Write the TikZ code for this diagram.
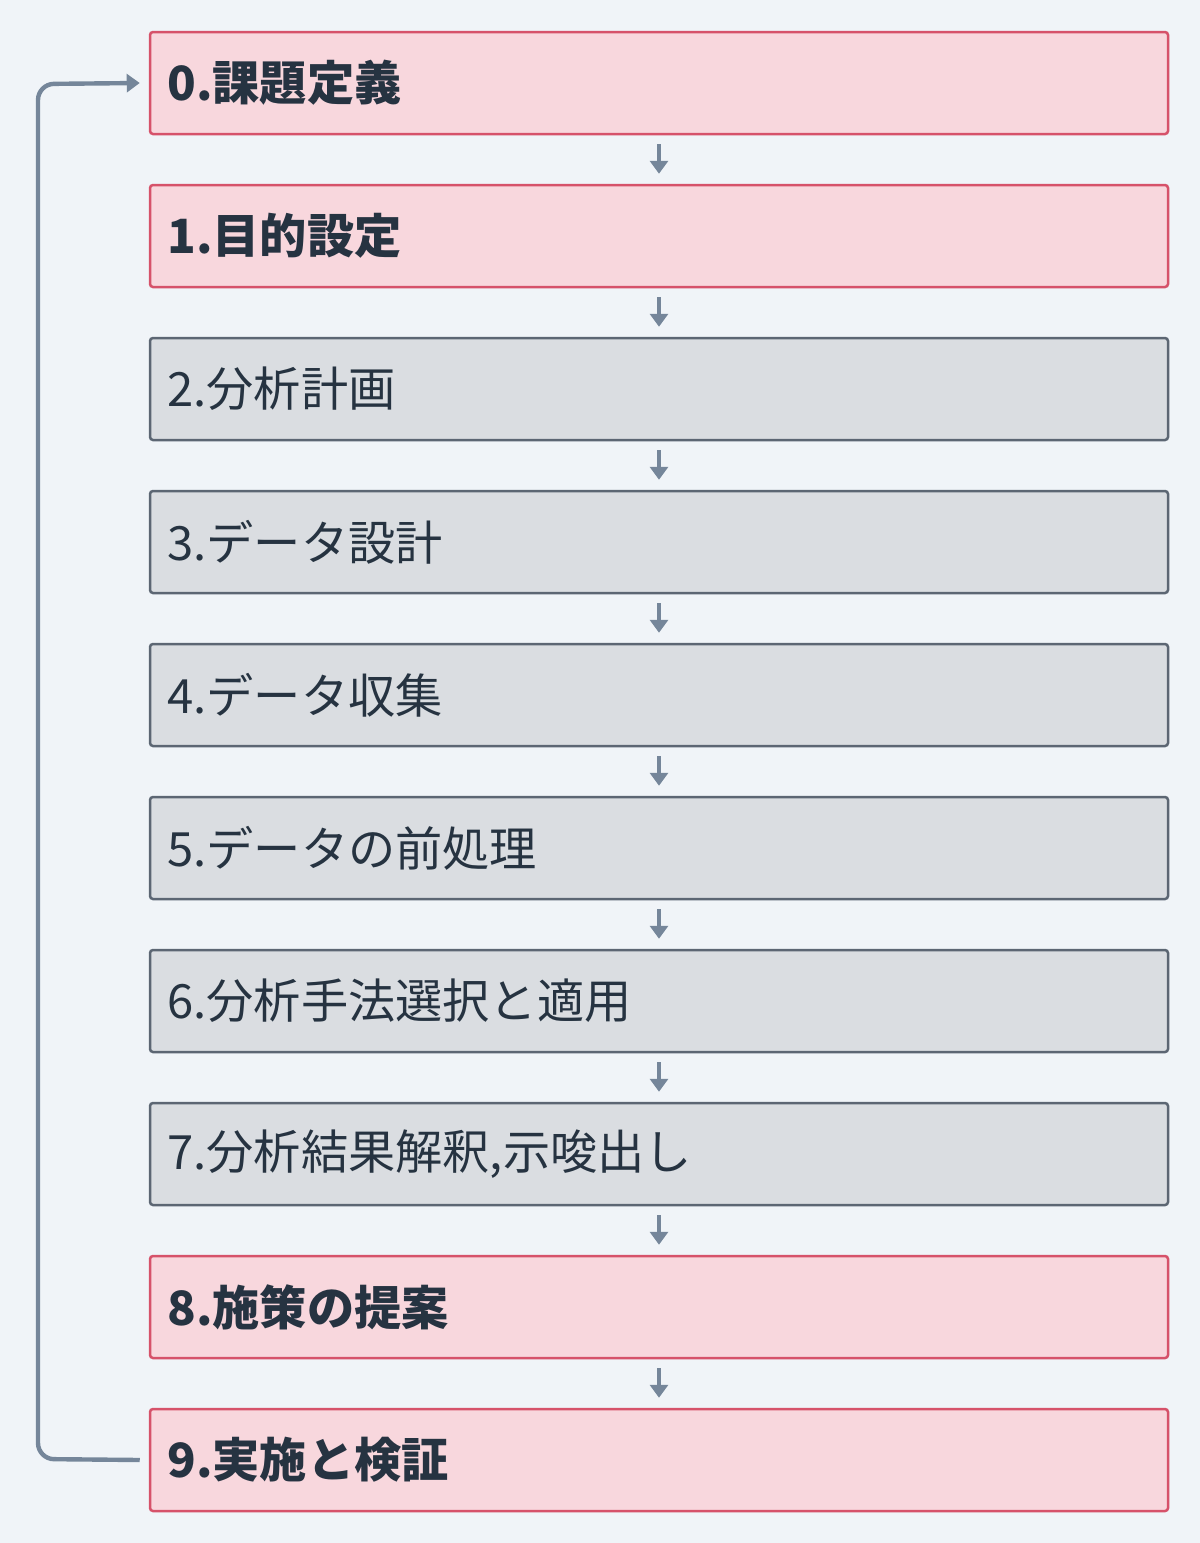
\documentclass[tikz,border=0pt]{standalone}
\usepackage{fontspec}
\setmainfont{Noto Sans CJK JP}
\usetikzlibrary{arrows.meta}
\definecolor{bgc}{HTML}{F0F4F8}
\definecolor{pinkfill}{HTML}{F8D7DD}
\definecolor{pinkline}{HTML}{D6526A}
\definecolor{grayfill}{HTML}{DADDE1}
\definecolor{grayline}{HTML}{5C6673}
\definecolor{txt}{HTML}{263341}
\definecolor{arr}{HTML}{75869A}
\tikzset{
  base/.style={minimum width=509pt, minimum height=51pt, rounded corners=1.5pt, line width=1.25pt, text=txt, inner sep=0pt},
  keybox/.style={base, fill=pinkfill, draw=pinkline},
  stdbox/.style={base, fill=grayfill, draw=grayline},
  lbl/.style={anchor=west, text=txt, inner sep=0pt, font=\fontsize{23.6pt}{27pt}\selectfont},
  flow/.style={draw=arr, line width=2pt, -{Triangle[length=6.5pt,width=9pt]}},
  loop/.style={draw=arr, line width=2.2pt, rounded corners=8pt, -{Triangle[length=6.5pt,width=9pt]}}
}
\begin{document}
\begin{tikzpicture}[x=0.5pt,y=-0.5pt]
\fill[bgc] (0,0) rectangle (1200,1543);
\useasboundingbox (0,0) rectangle (1200,1543);
\foreach \i/\s/\t/\bb in {0/keybox/{0.課題定義}/1, 1/keybox/{1.目的設定}/1, 2/stdbox/{2.分析計画}/0, 3/stdbox/{3.データ設計}/0, 4/stdbox/{4.データ収集}/0, 5/stdbox/{5.データの前処理}/0, 6/stdbox/{6.分析手法選択と適用}/0, 7/stdbox/{7.分析結果解釈,示唆出し}/0, 8/keybox/{8.施策の提案}/1, 9/keybox/{9.実施と検証}/1}{
  \node[\s] (b\i) at (659,{83+153*\i}) {};
  \ifnum\bb=1\relax
    \node[lbl] (t\i) at (167,{83+153*\i}) {\bfseries \t};
  \else
    \node[lbl] (t\i) at (167,{83+153*\i}) {\t};
  \fi
}
\foreach \i [evaluate=\i as \j using int(\i+1)] in {0,...,8}{
  \draw[flow] ([yshift=-4.5pt]b\i.south) -- ([yshift=5pt]b\j.north);
}
\coordinate (lstart) at ([xshift=-4.5pt]b9.west);
\coordinate (lend) at ([xshift=-4.5pt]b0.west);
\draw[loop] (lstart) -- (38,1459) -- (38,84) -- (lend);
\end{tikzpicture}
\end{document}
